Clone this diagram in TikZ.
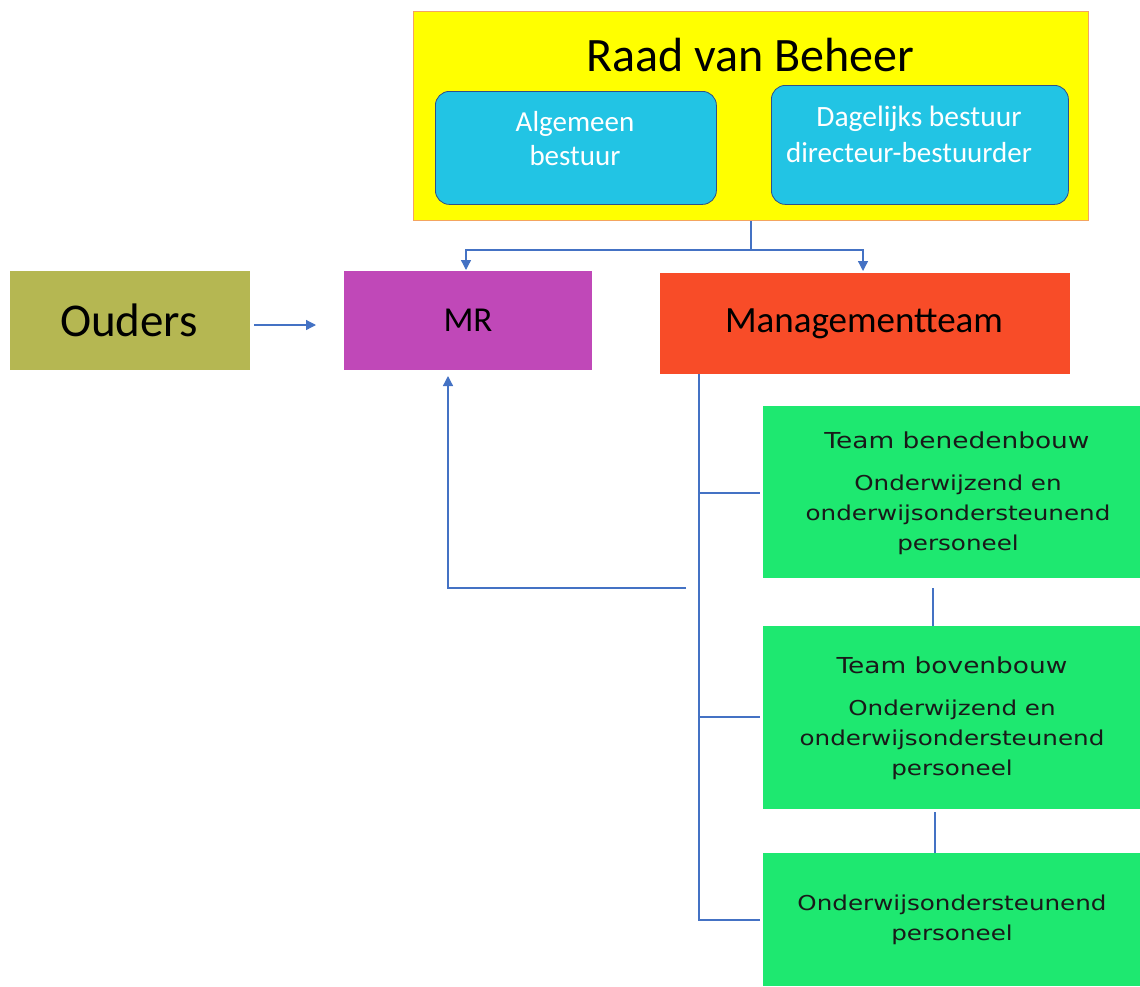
\documentclass[tikz,border=0pt]{standalone}
\usepackage{fontspec}
\setmainfont{Carlito}
\newfontfamily\greenfont[FakeStretch=1.2]{DejaVu Sans}
\usetikzlibrary{arrows.meta}
\definecolor{cyanbox}{HTML}{22C4E4}
\definecolor{yellowbox}{HTML}{FFFF00}
\definecolor{orangeline}{HTML}{F4A460}
\definecolor{purplebox}{HTML}{C048B8}
\definecolor{redbox}{HTML}{F84C28}
\definecolor{olivebox}{HTML}{B5B752}
\definecolor{greenbox}{HTML}{1EE870}
\definecolor{conn}{HTML}{4472C4}
\tikzset{
  box/.style={draw=none, inner sep=0pt, align=center, anchor=north west},
  cyan/.style={box, fill=cyanbox, draw=conn!70!black, rounded corners=14pt, line width=0.8pt},
  gtitle/.style={font=\greenfont\fontsize{22}{28}\selectfont, anchor=center, text=black!90},
  gtext/.style={font=\greenfont\fontsize{20.5}{30}\selectfont, align=center, anchor=center, text=black!90},
  link/.style={conn, line width=1.3pt},
  arr/.style={link, -{Triangle[length=10pt,width=10pt]}},
}
\begin{document}
\begin{tikzpicture}[x=1pt,y=-1pt]
\useasboundingbox (0,0) rectangle (1140,986);
% Raad van Beheer
\node[box, fill=yellowbox, draw=orangeline, line width=1.2pt, minimum width=675pt, minimum height=209pt] (rvb) at (413,11) {};
\node[font=\fontsize{48}{56}\selectfont] (rvbt) at (750,55) {Raad van Beheer};
\node[cyan, minimum width=281pt, minimum height=113pt] (alg) at (435,91) {};
\node[text=white, font=\fontsize{29}{34}\selectfont, align=center] (algt) at (575,139) {Algemeen\\bestuur};
\node[cyan, minimum width=297pt, minimum height=119pt] (dag) at (771,85) {};
\node[text=white] (dagt1) at (919,119) {\fontsize{29.5}{34}\selectfont Dagelijks bestuur};
\node[text=white] (dagt2) at (909,153) {\fontsize{29}{34}\selectfont directeur-bestuurder};
% middle row
\node[box, fill=olivebox, minimum width=240pt, minimum height=99pt] (ouders) at (10,271) {};
\node[font=\fontsize{47}{54}\selectfont] (oudt) at (129,320) {Ouders};
\node[box, fill=purplebox, minimum width=248pt, minimum height=99pt] (mr) at (344,271) {};
\node[font=\fontsize{35}{40}\selectfont] (mrt) at (468,320) {MR};
\node[box, fill=redbox, minimum width=410pt, minimum height=101pt] (mt) at (660,273) {};
\node[font=\fontsize{37}{42}\selectfont] (mtt) at (864,324) {Managementteam};
% green boxes
\node[box, fill=greenbox, minimum width=377pt, minimum height=172pt] (g1) at (763,406) {};
\node[gtitle] (g1t) at (957,440) {Team benedenbouw};
\node[gtext] (g1x) at (958,515) {Onderwijzend en\\onderwijsondersteunend\\personeel};
\node[box, fill=greenbox, minimum width=377pt, minimum height=183pt] (g2) at (763,626) {};
\node[gtitle] (g2t) at (952,665) {Team bovenbouw};
\node[gtext] (g2x) at (952,740) {Onderwijzend en\\onderwijsondersteunend\\personeel};
\node[box, fill=greenbox, minimum width=377pt, minimum height=133pt] (g3) at (763,853) {};
\node[gtext] (g3x) at (952,920) {Onderwijsondersteunend\\personeel};
% connectors
\coordinate (j) at (751,250);
\draw[link] (rvb.south -| j) -- (j);
\draw[arr] (j) -- (466,250) -- (466,270);
\draw[arr] (j) -- (863,250) -- (863,271);
\draw[arr] (254,325) -- (316,325);
\draw[link] (699,374) -- (699,920) -- (760,920);
\draw[link] (699,493) -- (760,493);
\draw[link] (699,717) -- (760,717);
\draw[arr] (686,588) -- (448,588) -- (448,376);
\draw[link] (933,588) -- (933,626);
\draw[link] (935,812) -- (935,853);
\end{tikzpicture}
\end{document}
